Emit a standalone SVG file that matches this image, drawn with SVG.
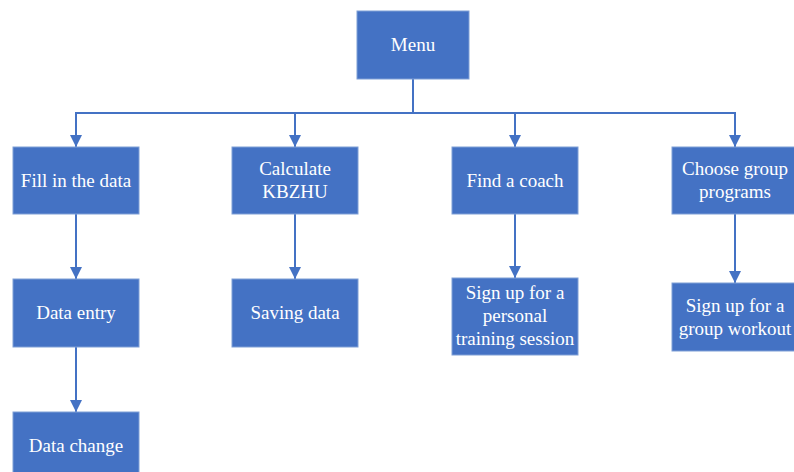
<svg xmlns="http://www.w3.org/2000/svg" width="794" height="472" viewBox="0 0 794 472">
<style>
.box{fill:#4472C4;stroke:#7F9FD6;stroke-width:1}
.t{font-family:'Liberation Serif','DejaVu Serif',serif;font-size:19px;fill:#FFFFFF;text-anchor:middle}
.c{fill:none;stroke:#4472C4;stroke-width:2}
</style>
<defs>
<marker id="ah" viewBox="0 0 10 10" refX="10" refY="5" markerWidth="6" markerHeight="6" markerUnits="strokeWidth" orient="auto">
<path d="M0,0 L10,5 L0,10 z" fill="#4472C4"/>
</marker>
</defs>
<rect width="794" height="472" fill="#FFFFFF"/>
<g id="connectors">
<path class="c" d="M413,79 V113"/>
<path class="c" d="M76,113 H735"/>
<path class="c" d="M76,112 V147" marker-end="url(#ah)"/>
<path class="c" d="M295,112 V147" marker-end="url(#ah)"/>
<path class="c" d="M515,112 V147" marker-end="url(#ah)"/>
<path class="c" d="M735,112 V147" marker-end="url(#ah)"/>
<path class="c" d="M76,214 V279" marker-end="url(#ah)"/>
<path class="c" d="M76,347 V412" marker-end="url(#ah)"/>
<path class="c" d="M295,214 V279" marker-end="url(#ah)"/>
<path class="c" d="M515,214 V278" marker-end="url(#ah)"/>
<path class="c" d="M735,214 V283" marker-end="url(#ah)"/>
</g>
<g id="menu">
<rect class="box" x="357" y="11" width="112" height="68"/>
<text class="t" x="413" y="51" font-family="Liberation Serif, serif">Menu</text>
</g>
<g id="fill-data">
<rect class="box" x="13" y="147" width="126" height="67"/>
<text class="t" x="76" y="187" font-family="Liberation Serif, serif">Fill in the data</text>
</g>
<g id="calculate">
<rect class="box" x="232" y="147" width="126" height="67"/>
<text class="t" x="295" y="175" font-family="Liberation Serif, serif">Calculate</text>
<text class="t" x="295" y="198" font-family="Liberation Serif, serif">KBZHU</text>
</g>
<g id="find-coach">
<rect class="box" x="452" y="147" width="126" height="67"/>
<text class="t" x="515" y="187" font-family="Liberation Serif, serif">Find a coach</text>
</g>
<g id="choose-group">
<rect class="box" x="672" y="147" width="126" height="67"/>
<text class="t" x="735" y="175" font-family="Liberation Serif, serif">Choose group</text>
<text class="t" x="735" y="198" font-family="Liberation Serif, serif">programs</text>
</g>
<g id="data-entry">
<rect class="box" x="13" y="279" width="126" height="68"/>
<text class="t" x="76" y="319" font-family="Liberation Serif, serif">Data entry</text>
</g>
<g id="saving-data">
<rect class="box" x="232" y="279" width="126" height="68"/>
<text class="t" x="295" y="319" font-family="Liberation Serif, serif">Saving data</text>
</g>
<g id="personal-training">
<rect class="box" x="452" y="278" width="126" height="77"/>
<text class="t" x="515" y="299" font-family="Liberation Serif, serif">Sign up for a</text>
<text class="t" x="515" y="322" font-family="Liberation Serif, serif">personal</text>
<text class="t" x="515" y="345" font-family="Liberation Serif, serif">training session</text>
</g>
<g id="group-workout">
<rect class="box" x="672" y="283" width="126" height="68"/>
<text class="t" x="735" y="312" font-family="Liberation Serif, serif">Sign up for a</text>
<text class="t" x="735" y="335" font-family="Liberation Serif, serif">group workout</text>
</g>
<g id="data-change">
<rect class="box" x="13" y="412" width="126" height="68"/>
<text class="t" x="76" y="452" font-family="Liberation Serif, serif">Data change</text>
</g>
</svg>
